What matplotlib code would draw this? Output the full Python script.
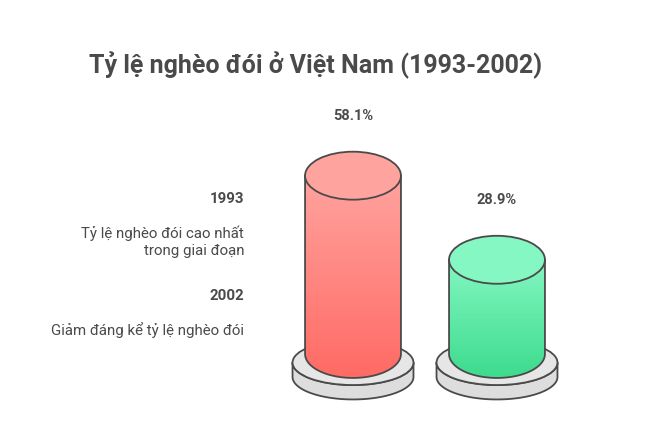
import matplotlib
matplotlib.use('Agg')
import matplotlib.pyplot as plt
import numpy as np
from matplotlib.patches import Ellipse, Polygon
from matplotlib.colors import LinearSegmentedColormap

plt.rcParams['font.family'] = ['Roboto', 'DejaVu Sans']

# Dữ liệu
nam = ['1993', '2002']
ty_le = [58.1, 28.9]
nhan_gia_tri = ['58.1%', '28.9%']
mo_ta = ['Tỷ lệ nghèo đói cao nhất\ntrong giai đoạn', 'Giảm đáng kể tỷ lệ nghèo đói']
mau_tren = ['#FFA39F', '#84F7C2']
mau_duoi = ['#FF6A64', '#3DDB8D']

TEXT = '#4A4A4A'
EDGE = '#4A4A4A'
LW = 1.3

fig = plt.figure(figsize=(6.7, 4.47), dpi=100)
fig.patch.set_facecolor('white')

# trục cho chữ (tọa độ pixel)
ax = fig.add_axes([0, 0, 1, 1])
ax.set_xlim(0, 670)
ax.set_ylim(447, 0)
ax.axis('off')

ax.text(316, 65, 'Tỷ lệ nghèo đói ở Việt Nam (1993-2002)', ha='center', va='center',
        fontsize=18, fontweight='bold', color=TEXT)

ax.text(244, 199, nam[0], ha='right', va='center', fontsize=10.8, fontweight='bold', color=TEXT)
ax.text(244, 242, mo_ta[0], ha='right', va='center', fontsize=10.8, color=TEXT,
        linespacing=1.3, multialignment='right')
ax.text(244, 296, nam[1], ha='right', va='center', fontsize=10.8, fontweight='bold', color=TEXT)
ax.text(244, 330, mo_ta[1], ha='right', va='center', fontsize=10.8, color=TEXT)

# trục cho hình trụ: x = hạng mục, y = phần trăm
cax = fig.add_axes([280 / 670, 37 / 447, 290 / 670, 280 / 447])
cax.axis('off')

rx = 0.333      # bán kính ngang trụ
ry = 8.33       # bán trục dọc elip
day = -3.8      # chân trụ
drx = 0.42      # đế
dry = 7.8
d_tren = -6.8
d_day = 5.0

for i, v in enumerate(ty_le):
    x = i
    # đế xám
    yb = d_tren - d_day
    t = np.linspace(np.pi, 2 * np.pi, 60)
    side = list(zip(x + drx * np.cos(t), yb + dry * np.sin(t)))
    side += list(zip(x + drx * np.cos(t[::-1]), d_tren + dry * np.sin(t[::-1])))
    cax.add_patch(Polygon(side, closed=True, facecolor='#DDDDDD', edgecolor=EDGE, lw=LW, zorder=1))
    cax.add_patch(Ellipse((x, d_tren), 2 * drx, 2 * dry, facecolor='#E6E6E6',
                          edgecolor=EDGE, lw=LW, zorder=2))

    # thân trụ với gradient
    t2 = np.linspace(np.pi, 2 * np.pi, 80)
    body = [(x - rx, v)]
    body += list(zip(x + rx * np.cos(t2), day + ry * np.sin(t2)))
    body += [(x + rx, v)]
    cmap = LinearSegmentedColormap.from_list('g%d' % i, [mau_duoi[i], mau_tren[i]])
    grad = np.linspace(0, 1, 256).reshape(-1, 1)
    im = cax.imshow(grad, cmap=cmap, extent=[x - rx, x + rx, day - ry, v],
                    origin='lower', aspect='auto', zorder=3)
    clip = Polygon(body, closed=True, transform=cax.transData, facecolor='none', edgecolor='none')
    cax.add_patch(clip)
    im.set_clip_path(clip)
    cax.add_patch(Polygon(body, closed=True, facecolor='none', edgecolor=EDGE, lw=LW, zorder=5))

    # mặt trên
    cax.add_patch(Ellipse((x, v), 2 * rx, 2 * ry, facecolor=mau_tren[i],
                          edgecolor=EDGE, lw=LW, zorder=6))

    cax.text(x, v + ry + 12.5, nhan_gia_tri[i], ha='center', va='center',
             fontsize=10.5, fontweight='bold', color=TEXT)

cax.set_xlim(-0.507, 1.507)
cax.set_ylim(-23.26, 73.96)

fig.savefig('out.png', dpi=100, facecolor='white')
